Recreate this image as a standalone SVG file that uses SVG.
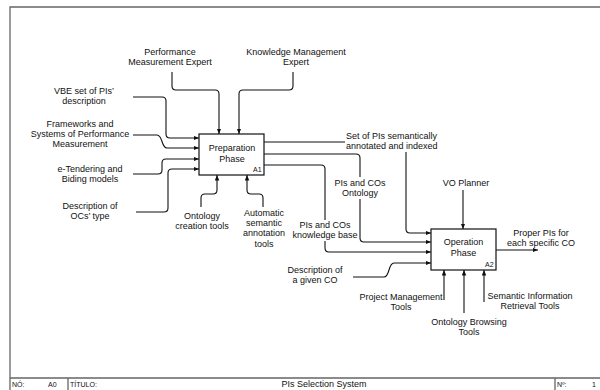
<svg xmlns="http://www.w3.org/2000/svg" width="600" height="390" viewBox="0 0 600 390">
<style>
text{font-family:"Liberation Sans",Arial,sans-serif;font-size:9px;fill:#111}
.c{text-anchor:middle}
.f{font-size:7px}
.box{fill:#fff;stroke:#111;stroke-width:1.2}
.ln{fill:none;stroke:#111;stroke-width:1.1}
.fr{fill:none;stroke:#666;stroke-width:1.3}
</style>
<defs>
<marker id="ah" markerUnits="userSpaceOnUse" markerWidth="6" markerHeight="5" refX="5.5" refY="2.25" orient="auto">
<path d="M0,0 L5.5,2.25 L0,4.5 z" fill="#111"/>
</marker>
</defs>
<rect width="600" height="390" fill="#fff"/>
<g id="frame">
<path class="fr" d="M600,7 H10 V390"/>
<path class="fr" d="M10,378 H600 M68,378 V390 M555,378 V390"/>
<text class="f" x="12" y="387">NÓ:</text>
<text class="f" x="48" y="387">A0</text>
<text class="f" x="70" y="387">TÍTULO:</text>
<text class="c" x="324" y="387">PIs Selection System</text>
<text class="f" x="557" y="387">Nº:</text>
<text class="f" x="592" y="387">1</text>
</g>
<g id="connectors">
<path class="ln" marker-end="url(#ah)" d="M172,72 V86 Q172,90 176,90 H215 Q219,90 219,94 V134"/>
<path class="ln" marker-end="url(#ah)" d="M293,72 V86 Q293,90 289,90 H243 Q239,90 239,94 V134"/>
<path class="ln" marker-end="url(#ah)" d="M133,97 H162 Q166,97 166,101 V134 Q166,138 170,138 H199"/>
<path class="ln" marker-end="url(#ah)" d="M133,135 H157 C163,135 161,148 167,148 H199"/>
<path class="ln" marker-end="url(#ah)" d="M133,174 H158 Q162,174 162,170 V163 Q162,159 166,159 H199"/>
<path class="ln" marker-end="url(#ah)" d="M136,212 H164 Q168,212 168,208 V173 Q168,169 172,169 H199"/>
<path class="ln" marker-end="url(#ah)" d="M201,207 V198 Q201,194 205,194 H213 Q217,194 217,190 V175"/>
<path class="ln" marker-end="url(#ah)" d="M263,207 V198 Q263,194 259,194 H251 Q247,194 247,190 V175"/>
<path class="ln" d="M264,142 H345"/>
<path class="ln" marker-end="url(#ah)" d="M406,152 V229 Q406,233 410,233 H431"/>
<path class="ln" d="M264,154 H356 Q360,154 360,158 V177"/>
<path class="ln" marker-end="url(#ah)" d="M360,199 V238 Q360,242 364,242 H431"/>
<path class="ln" d="M264,165 H321 Q325,165 325,169 V220"/>
<path class="ln" marker-end="url(#ah)" d="M325,241 V248 Q325,252 329,252 H431"/>
<path class="ln" marker-end="url(#ah)" d="M353,277 H384 C390,277 388,263 394,263 H431"/>
<path class="ln" marker-end="url(#ah)" d="M463,190 V229"/>
<path class="ln" marker-end="url(#ah)" d="M496,250 H538"/>
<path class="ln" marker-end="url(#ah)" d="M444,300 V270"/>
<path class="ln" marker-end="url(#ah)" d="M464,313 V270"/>
<path class="ln" marker-end="url(#ah)" d="M484,302 V270"/>
</g>
<g id="A1">
<rect class="box" x="199" y="134" width="65" height="41"/>
<text class="c" x="232" y="151">Preparation</text>
<text class="c" x="232" y="162">Phase</text>
<text class="f" x="253" y="172">A1</text>
</g>
<g id="A2">
<rect class="box" x="431" y="229" width="65" height="41"/>
<text class="c" x="463.5" y="245">Operation</text>
<text class="c" x="463.5" y="256">Phase</text>
<text class="f" x="485" y="267">A2</text>
</g>
<g id="labels">
<text class="c" x="170" y="55">Performance</text>
<text class="c" x="170" y="65">Measurement Expert</text>
<text class="c" x="296" y="55">Knowledge Management</text>
<text class="c" x="296" y="65">Expert</text>
<text class="c" x="84" y="94">VBE set of PIs’</text>
<text class="c" x="84" y="104">description</text>
<text class="c" x="80" y="127">Frameworks and</text>
<text class="c" x="80" y="137">Systems of Performance</text>
<text class="c" x="80" y="147">Measurement</text>
<text class="c" x="90" y="172">e-Tendering and</text>
<text class="c" x="90" y="182">Biding models</text>
<text class="c" x="90" y="209">Description of</text>
<text class="c" x="90" y="219">OCs’ type</text>
<text class="c" x="202" y="219">Ontology</text>
<text class="c" x="202" y="229">creation tools</text>
<text class="c" x="264" y="216">Automatic</text>
<text class="c" x="264" y="226">semantic</text>
<text class="c" x="264" y="236">annotation</text>
<text class="c" x="264" y="247">tools</text>
<text x="346" y="139">Set of PIs semantically</text>
<text x="346" y="149">annotated and indexed</text>
<text class="c" x="360" y="186">PIs and COs</text>
<text class="c" x="360" y="196">Ontology</text>
<text class="c" x="325" y="228">PIs and COs</text>
<text class="c" x="325" y="238">knowledge base</text>
<text class="c" x="315" y="273">Description of</text>
<text class="c" x="315" y="283">a given CO</text>
<text class="c" x="466" y="186">VO Planner</text>
<text class="c" x="541" y="236">Proper PIs for</text>
<text class="c" x="541" y="246">each specific CO</text>
<text class="c" x="401" y="300">Project Management</text>
<text class="c" x="401" y="310">Tools</text>
<text class="c" x="469" y="325">Ontology Browsing</text>
<text class="c" x="469" y="335">Tools</text>
<text class="c" x="530" y="299">Semantic Information</text>
<text class="c" x="530" y="309">Retrieval Tools</text>
</g>
</svg>
